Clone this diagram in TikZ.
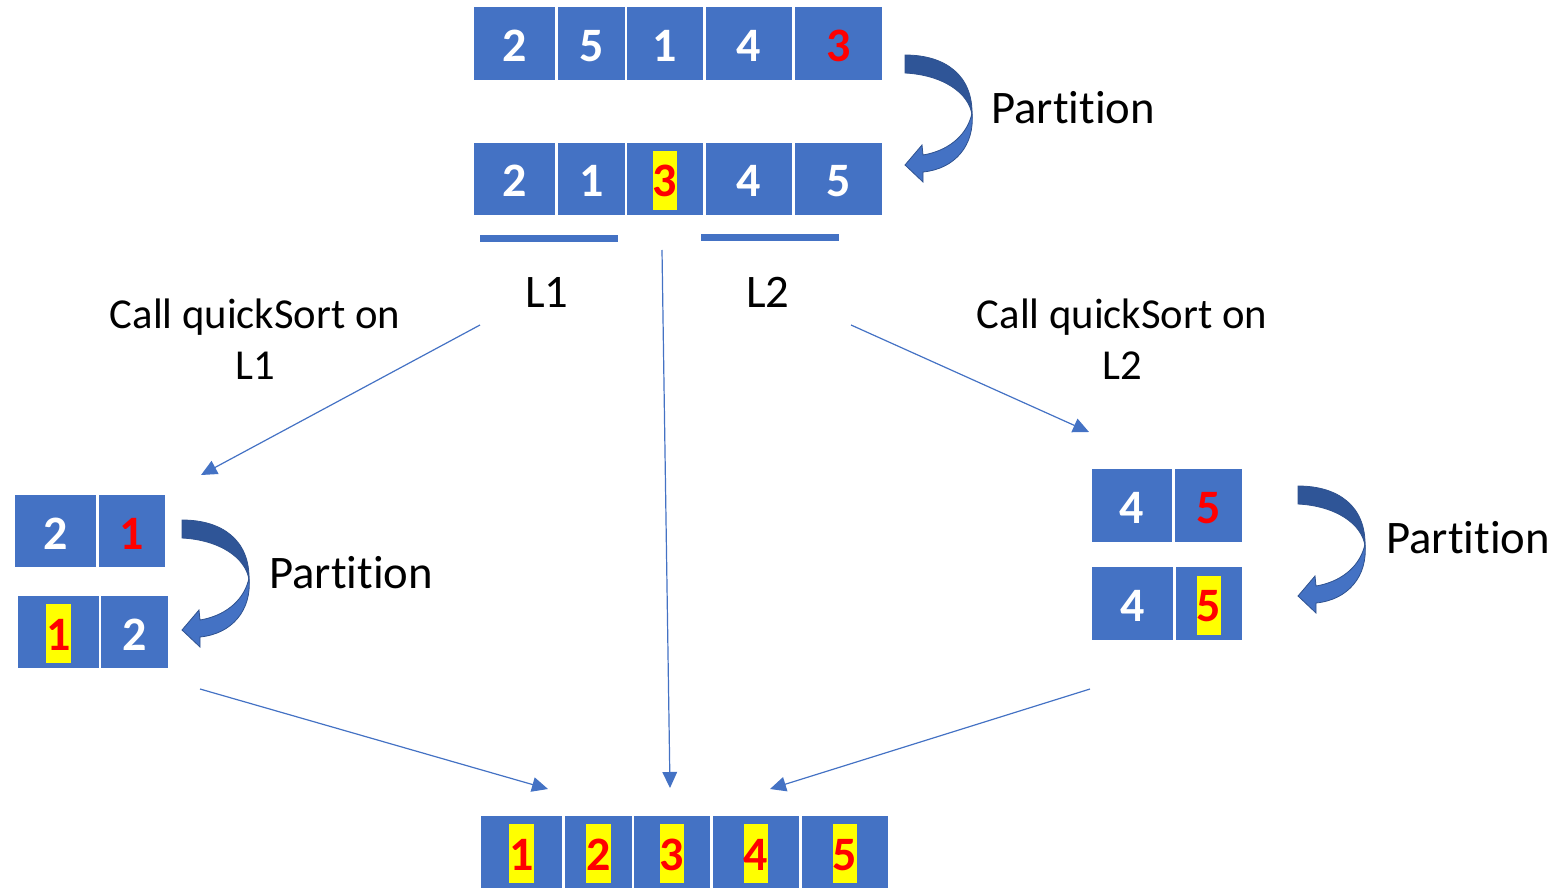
\documentclass[tikz,border=0pt]{standalone}
\usepackage{fontspec}
\setmainfont{Carlito}[Ligatures=NoCommon]
\usetikzlibrary{arrows.meta,calc}

\definecolor{cellblue}{HTML}{4472C4}
\definecolor{bandtop}{HTML}{2F5597}
\definecolor{bandedge}{HTML}{2F528F}
\definecolor{hlyellow}{HTML}{FFFF00}
\definecolor{pivotred}{HTML}{FF0000}

\tikzset{
  cellbox/.style={fill=cellblue, draw=none, inner sep=0pt},
  digit/.style={anchor=base, inner sep=0pt, font=\bfseries\fontsize{36}{42}\selectfont},
  dw/.style={digit, text=white},
  dr/.style={digit, text=pivotred},
  dh/.style={digit, text=pivotred, fill=hlyellow, inner xsep=0.2pt,
             text height=34.5pt, text depth=9.75pt},
  bar/.style={fill=cellblue, draw=none},
  link/.style={draw=cellblue, line width=0.9pt,
               -{Triangle[length=12pt, width=11pt]}},
  parttext/.style={anchor=base west, inner sep=0pt, font=\fontsize{35}{42}\selectfont},
  calltext/.style={anchor=base, inner sep=0pt, align=center,
                   font=\fontsize{32}{38.25}\selectfont},
  listname/.style={anchor=base, inner sep=0pt, font=\fontsize{35}{42}\selectfont},
  partarrow/.pic={
    % upper, darker half of the curved band
    \path[fill=bandtop, draw=bandedge, line width=0.6pt]
      (0,0) .. controls (40,0) and (68,20) .. (67,60)
            .. controls (64,38) and (38,20) .. (0,18) -- cycle;
    % lower half with the arrow head
    \path[fill=cellblue, draw=bandedge, line width=0.6pt]
      (67,58) .. controls (70,90) and (50,114) .. (18,117)
      -- (18,127) -- (0,110) -- (17,90) -- (18,100)
      .. controls (42,96) and (60,82) .. (66,62) -- cycle;
  }
}

% \qcell{name}{x1}{y1}{x2}{y2}{digit style}{digit}
\newcommand\qcell[7]{%
  \node[cellbox, minimum width={(#4-#2)*0.75pt}, minimum height={(#5-#3)*0.75pt}]
    (#1) at ({(#2+#4)/2},{(#3+#5)/2}) {};
  \node[#6] (#1-d) at ($(#1.center)+(0,18)$) {#7};
}

\begin{document}
\begin{tikzpicture}[x=0.75pt, y=-0.75pt]
\useasboundingbox (0,0) rectangle (1557,891);

% input list
\qcell{a1}{474}{7}{555}{80}{dw}{2}
\qcell{a2}{558}{7}{625}{80}{dw}{5}
\qcell{a3}{627}{7}{703}{80}{dw}{1}
\qcell{a4}{706}{7}{792}{80}{dw}{4}
\qcell{a5}{795}{7}{882}{80}{dr}{3}

% after the first partition
\qcell{b1}{474}{143}{555}{215}{dw}{2}
\qcell{b2}{558}{143}{625}{215}{dw}{1}
\qcell{b3}{627}{143}{703}{215}{dh}{3}
\qcell{b4}{706}{143}{792}{215}{dw}{4}
\qcell{b5}{795}{143}{882}{215}{dw}{5}

\pic at (905,55) {partarrow};
\node[parttext] (p0) at (991,124) {Partition};

% sublist markers
\path[bar] (480,235) rectangle (618,242);
\path[bar] (701,234) rectangle (839,241);
\node[listname] (l1) at (547,308) {L1};
\node[listname] (l2) at (768,308) {L2};

% the base anchor sits on the last line
\node[calltext] (callL) at (255,379) {Call quickSort on\\L1};
\node[calltext] (callR) at (1122,379) {Call quickSort on\\L2};

% left sublist
\qcell{c1}{15}{495}{96}{567}{dw}{2}
\qcell{c2}{99}{495}{165}{567}{dr}{1}
\qcell{d1}{18}{596}{99}{668}{dh}{1}
\qcell{d2}{101}{596}{168}{668}{dw}{2}
\pic at (182,520) {partarrow};
\node[parttext] (p1) at (269,588) {Partition};

% right sublist
\qcell{e1}{1092}{469}{1172}{542}{dw}{4}
\qcell{e2}{1175}{469}{1242}{542}{dr}{5}
\qcell{f1}{1092}{567}{1173}{640}{dw}{4}
\qcell{f2}{1176}{567}{1242}{640}{dh}{5}
\pic at (1298,486) {partarrow};
\node[parttext] (p2) at (1386,553) {Partition};

% sorted result
\qcell{g1}{481}{816}{562}{888}{dh}{1}
\qcell{g2}{565}{816}{632}{888}{dh}{2}
\qcell{g3}{634}{816}{710}{888}{dh}{3}
\qcell{g4}{713}{816}{799}{888}{dh}{4}
\qcell{g5}{802}{816}{888}{888}{dh}{5}

% connector end points
\coordinate (s1) at (480,325);
\coordinate (t1) at (201,475);
\coordinate (s2) at (851,325);
\coordinate (t2) at (1089,432);
\coordinate (s3) at (662,250);
\coordinate (t3) at (670,788);
\coordinate (s4) at (200,689);
\coordinate (t4) at (548,789);
\coordinate (s5) at (1090,689);
\coordinate (t5) at (770,789);

\draw[link] (s1) -- (t1);
\draw[link] (s2) -- (t2);
\draw[link] (s3) -- (t3);
\draw[link] (s4) -- (t4);
\draw[link] (s5) -- (t5);
\end{tikzpicture}
\end{document}
